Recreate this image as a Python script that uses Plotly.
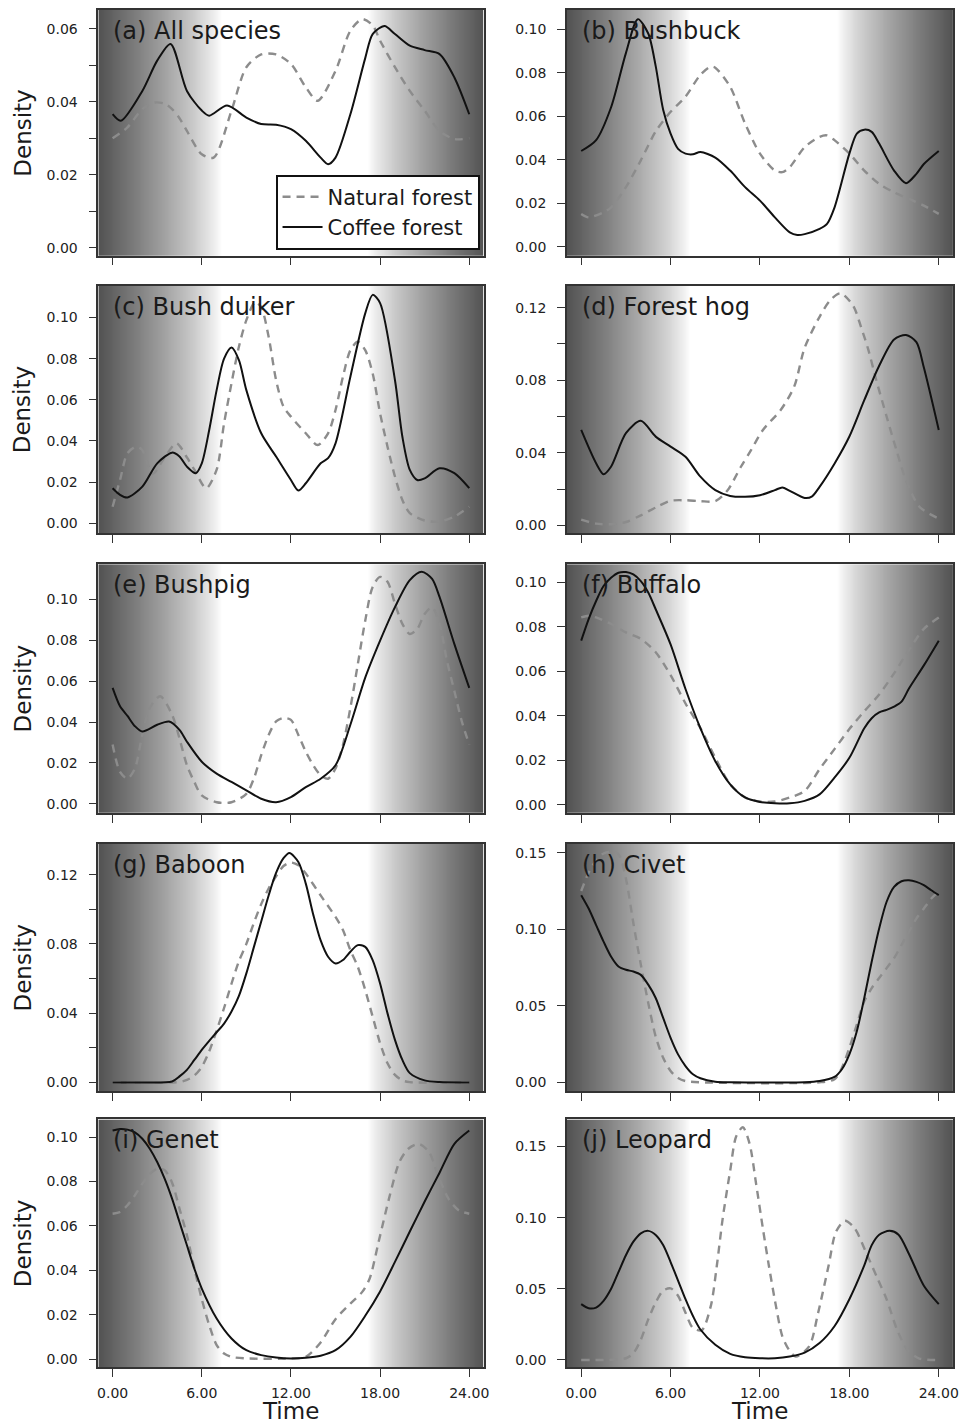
import numpy as np
import plotly.graph_objects as go

# ---------------- data (hours, density) ----------------
panel_titles = ["(a) All species", "(b) Bushbuck", "(c) Bush duiker", "(d) Forest hog",
                "(e) Bushpig", "(f) Buffalo", "(g) Baboon", "(h) Civet",
                "(i) Genet", "(j) Leopard"]

a_cof_t = [0, 0.55, 2, 3, 3.9, 5, 6, 6.5, 7.7, 9, 10, 11, 12, 13, 14, 14.5, 15, 16, 17, 17.5, 18.3, 19, 20, 21, 22, 23, 24]
a_cof_y = [0.0366, 0.0348, 0.043, 0.0513, 0.0559, 0.043, 0.0376, 0.0362, 0.039, 0.0357, 0.0339, 0.0337, 0.0325, 0.0293, 0.0247, 0.0229, 0.0247, 0.0366, 0.052, 0.0586, 0.0608, 0.0586, 0.0554, 0.0542, 0.0531, 0.0467, 0.0366]
a_nat_t = [0, 1, 2, 2.8, 3.5, 4, 4.5, 5, 6, 6.8, 8, 9, 10, 11, 12, 13, 13.8, 15, 16, 16.8, 17.5, 18, 19, 20, 21, 22, 23, 24]
a_nat_y = [0.030, 0.033, 0.038, 0.0398, 0.0395, 0.038, 0.0355, 0.032, 0.0256, 0.0247, 0.0376, 0.0495, 0.053, 0.053, 0.0504, 0.044, 0.0403, 0.0485, 0.0595, 0.0627, 0.061, 0.0568, 0.0495, 0.043, 0.0376, 0.032, 0.0298, 0.030]

b_cof_t = [0, 1, 2, 3, 3.8, 4.5, 5, 5.5, 6, 6.5, 7, 7.5, 8, 9, 10, 11, 12, 13, 14, 14.5, 15, 16, 16.5, 17, 18, 18.5, 19, 19.5, 20, 21, 21.8, 22.5, 23, 24]
b_cof_y = [0.044, 0.049, 0.064, 0.089, 0.1046, 0.098, 0.083, 0.063, 0.052, 0.045, 0.0428, 0.0425, 0.0435, 0.041, 0.035, 0.0274, 0.0212, 0.0135, 0.0066, 0.0054, 0.0058, 0.0082, 0.0105, 0.018, 0.0428, 0.052, 0.0538, 0.0528, 0.0474, 0.035, 0.0292, 0.0335, 0.038, 0.044]
b_nat_t = [0, 0.5, 1.5, 2, 3, 4, 5, 6, 7, 8, 8.7, 9, 10, 11, 12, 13, 13.5, 14, 15, 16, 16.5, 17, 18, 19, 20, 21, 22, 23, 24]
b_nat_y = [0.0151, 0.0135, 0.0158, 0.018, 0.0274, 0.0397, 0.053, 0.062, 0.069, 0.079, 0.0828, 0.0823, 0.0735, 0.0566, 0.0428, 0.035, 0.0343, 0.0366, 0.0458, 0.0505, 0.0512, 0.049, 0.0428, 0.035, 0.0289, 0.025, 0.022, 0.0189, 0.0151]

c_cof_t = [0, 0.5, 1, 2, 3, 4, 4.5, 5, 5.6, 6, 6.5, 7, 7.5, 8, 8.5, 9, 10, 11, 12, 12.5, 13, 14, 14.5, 15, 16, 17, 17.5, 18, 19, 19.5, 20, 20.5, 21, 22, 23, 24]
c_cof_y = [0.017, 0.0138, 0.0125, 0.0178, 0.0291, 0.0343, 0.0324, 0.0275, 0.0243, 0.0291, 0.0453, 0.0647, 0.080, 0.0854, 0.0793, 0.0647, 0.0437, 0.0324, 0.021, 0.0159, 0.0194, 0.0291, 0.0316, 0.0388, 0.0712, 0.102, 0.111, 0.107, 0.0696, 0.042, 0.0259, 0.021, 0.0218, 0.0267, 0.0243, 0.017]
c_nat_t = [0, 0.5, 1, 1.6, 2, 2.7, 3.5, 4.3, 5, 5.5, 6.3, 7, 7.5, 8, 8.5, 9, 9.6, 10, 10.5, 11, 11.5, 12, 13, 13.8, 14.5, 15, 15.5, 16, 16.5, 17, 17.5, 18, 18.5, 19, 19.5, 20, 21, 22, 23, 24]
c_nat_y = [0.008, 0.021, 0.034, 0.0372, 0.0356, 0.024, 0.032, 0.0388, 0.032, 0.026, 0.017, 0.026, 0.0485, 0.068, 0.0858, 0.0987, 0.1076, 0.105, 0.0906, 0.0696, 0.0566, 0.0518, 0.0437, 0.038, 0.0437, 0.055, 0.0712, 0.0841, 0.0882, 0.0841, 0.0728, 0.0534, 0.0372, 0.0227, 0.0113, 0.0049, 0.0013, 0.0008, 0.0032, 0.008]

d_cof_t = [0, 1, 1.5, 2, 3, 4, 5, 6, 7, 8, 9, 10, 11, 12, 13, 13.5, 14, 15, 15.5, 16, 17, 18, 19, 20, 21, 21.8, 22.5, 23, 24]
d_cof_y = [0.0526, 0.0342, 0.0282, 0.0323, 0.0508, 0.0576, 0.0489, 0.0434, 0.0378, 0.0268, 0.0194, 0.0162, 0.0157, 0.0166, 0.0194, 0.0209, 0.019, 0.0151, 0.016, 0.0212, 0.034, 0.049, 0.069, 0.088, 0.1025, 0.105, 0.101, 0.087, 0.0526]
d_nat_t = [0, 1, 2, 3, 4, 5, 6, 7, 8, 9, 9.8, 10.7, 11.4, 12.2, 13.4, 14.3, 15, 16, 16.7, 17.4, 18.26, 18.8, 19.27, 19.8, 20.5, 21.16, 21.8, 22.7, 24]
d_nat_y = [0.0031, 0.0009, 0.0006, 0.0018, 0.0055, 0.0098, 0.0135, 0.0138, 0.0133, 0.0133, 0.019, 0.032, 0.0415, 0.0526, 0.0637, 0.0766, 0.098, 0.115, 0.124, 0.128, 0.121, 0.1089, 0.0969, 0.0803, 0.060, 0.0415, 0.0249, 0.0102, 0.0037]

e_cof_t = [0, 0.5, 1, 1.5, 2, 3, 3.8, 4.5, 5, 6, 7, 8, 9, 10, 11, 12, 13, 14, 15, 16, 17, 18, 19, 20, 20.8, 21.5, 22, 23, 24]
e_cof_y = [0.0567, 0.0477, 0.043, 0.038, 0.0354, 0.0387, 0.0403, 0.0362, 0.0304, 0.0206, 0.0148, 0.0107, 0.0066, 0.0025, 0.0008, 0.0033, 0.0082, 0.0123, 0.0189, 0.0387, 0.0617, 0.0798, 0.0962, 0.1094, 0.1135, 0.110, 0.1012, 0.0781, 0.0567]
e_nat_t = [0, 0.5, 1, 1.5, 2, 2.5, 3.2, 4, 4.5, 5, 5.5, 6, 7, 8, 9, 9.5, 10, 10.5, 11, 11.5, 12, 12.5, 13, 13.5, 14, 14.5, 15, 15.5, 16, 16.5, 17, 17.5, 18, 18.5, 19, 19.5, 20, 20.5, 21, 21.5, 22, 22.5, 23, 23.5, 24]
e_nat_y = [0.029, 0.0156, 0.0123, 0.0173, 0.0337, 0.0469, 0.0526, 0.0436, 0.032, 0.0189, 0.0107, 0.0041, 0.0008, 0.0008, 0.0049, 0.0123, 0.0238, 0.0337, 0.0403, 0.042, 0.0411, 0.0337, 0.0255, 0.0189, 0.014, 0.0123, 0.0173, 0.0288, 0.0469, 0.0683, 0.0896, 0.1061, 0.111, 0.1086, 0.0979, 0.088, 0.0831, 0.0855, 0.0929, 0.0962, 0.088, 0.0699, 0.0551, 0.0403, 0.029]

f_cof_t = [0, 0.5, 1, 1.5, 2, 2.5, 3, 3.5, 4, 4.5, 5, 6, 7, 8, 9, 10, 11, 12, 13, 14, 15, 16, 17, 18, 19, 19.5, 20, 20.5, 21, 21.5, 22, 23, 24]
f_cof_y = [0.0737, 0.0834, 0.0915, 0.0982, 0.1019, 0.1042, 0.1045, 0.1034, 0.1004, 0.0953, 0.0878, 0.072, 0.052, 0.0344, 0.0196, 0.0092, 0.0033, 0.0013, 0.0007, 0.0007, 0.0018, 0.0047, 0.0122, 0.0211, 0.0344, 0.0389, 0.0415, 0.0426, 0.0441, 0.0463, 0.0522, 0.0626, 0.0737]
f_nat_t = [0, 0.5, 1, 2, 3, 4, 5, 6, 7, 8, 9, 10, 11, 12, 13, 14, 15, 16, 17, 18, 19, 20, 21, 22, 23, 24]
f_nat_y = [0.0841, 0.0849, 0.0841, 0.0812, 0.0774, 0.0745, 0.0685, 0.0582, 0.0455, 0.0344, 0.0211, 0.0092, 0.0033, 0.0015, 0.0015, 0.0033, 0.0062, 0.016, 0.025, 0.034, 0.042, 0.0495, 0.059, 0.0695, 0.079, 0.0841]

g_cof_t = [0, 2, 4, 4.5, 5, 5.5, 6, 6.5, 7, 7.5, 8, 8.5, 9, 9.5, 10, 10.5, 11, 11.5, 11.9, 12.5, 13, 13.5, 14, 14.5, 15, 15.5, 16, 16.5, 17, 17.5, 18, 18.5, 19, 19.5, 20, 21, 22, 24]
g_cof_y = [0, 0, 0.0006, 0.0035, 0.0073, 0.013, 0.0188, 0.024, 0.029, 0.034, 0.041, 0.05, 0.063, 0.078, 0.093, 0.108, 0.121, 0.1295, 0.1325, 0.1273, 0.1148, 0.097, 0.082, 0.0726, 0.0687, 0.0707, 0.0755, 0.0793, 0.0783, 0.0707, 0.0572, 0.0399, 0.0246, 0.013, 0.0054, 0.0012, 0.0002, 0]
g_nat_t = [0, 4.5, 5, 5.5, 6, 6.5, 7, 7.5, 8, 8.5, 9, 9.5, 10, 10.5, 11, 11.5, 12, 12.5, 13, 14, 15, 15.5, 16, 16.5, 17, 17.5, 18, 18.5, 19, 19.5, 20, 24]
g_nat_y = [0, 0.0003, 0.0015, 0.004, 0.009, 0.018, 0.03, 0.043, 0.057, 0.07, 0.08, 0.092, 0.103, 0.112, 0.119, 0.125, 0.127, 0.1254, 0.1206, 0.108, 0.0956, 0.088, 0.0764, 0.0668, 0.0534, 0.038, 0.0227, 0.0111, 0.0044, 0.0012, 0.0002, 0]

h_cof_t = [0, 0.5, 1, 1.5, 2, 2.5, 3, 3.5, 4, 4.5, 5, 5.5, 6, 6.5, 7, 7.5, 8, 9, 10, 12, 15, 16, 17, 17.5, 18, 18.5, 19, 19.5, 20, 20.5, 21, 21.5, 22, 22.5, 23, 23.5, 24]
h_cof_y = [0.1223, 0.1136, 0.1028, 0.092, 0.0823, 0.0758, 0.0736, 0.0725, 0.0703, 0.0639, 0.0552, 0.0422, 0.0292, 0.0184, 0.0108, 0.0054, 0.0028, 0.0006, 0.0002, 0.0001, 0.0002, 0.001, 0.0037, 0.0087, 0.0184, 0.0335, 0.0552, 0.079, 0.1006, 0.118, 0.1277, 0.1314, 0.132, 0.131, 0.1288, 0.1255, 0.1223]
h_nat_t = [0, 0.5, 1, 1.5, 2, 2.5, 3, 3.5, 4, 4.5, 5, 5.5, 6, 6.5, 7, 8, 16, 17, 17.5, 18, 18.5, 19, 19.5, 20, 20.5, 21, 21.5, 22, 22.5, 23, 23.5, 24]
h_nat_y = [0.125, 0.137, 0.145, 0.1495, 0.1505, 0.149, 0.133, 0.104, 0.077, 0.052, 0.03, 0.0162, 0.0075, 0.003, 0.001, 0.0002, 0.0002, 0.0022, 0.0097, 0.0227, 0.0379, 0.053, 0.0617, 0.0682, 0.0747, 0.0812, 0.0898, 0.0985, 0.1071, 0.1136, 0.1201, 0.125]

i_cof_t = [0, 0.5, 1, 1.5, 2, 2.5, 3, 3.5, 4, 4.5, 5, 5.5, 6, 7, 8, 9, 10, 11, 12, 13, 14, 15, 16, 17, 18, 19, 20, 21, 22, 23, 24]
i_cof_y = [0.103, 0.1037, 0.1034, 0.1022, 0.0993, 0.0948, 0.0888, 0.0813, 0.0723, 0.0618, 0.0513, 0.0408, 0.0318, 0.0183, 0.0093, 0.004, 0.0018, 0.0007, 0.0003, 0.0006, 0.0015, 0.004, 0.01, 0.0195, 0.0305, 0.0438, 0.0575, 0.071, 0.084, 0.097, 0.103]
i_nat_t = [0, 0.5, 1, 1.5, 2, 2.5, 3, 3.5, 4, 4.5, 5, 5.5, 6, 6.5, 7, 7.5, 8, 9, 12, 13, 14, 15, 16, 16.8, 17.3, 17.9, 18.6, 19.3, 19.9, 20.6, 21.3, 21.9, 22.6, 23.3, 24]
i_nat_y = [0.0655, 0.0663, 0.0693, 0.0738, 0.079, 0.0835, 0.0858, 0.0851, 0.0795, 0.0678, 0.0558, 0.0408, 0.027, 0.0153, 0.0063, 0.0025, 0.001, 0.0003, 0.0003, 0.001, 0.0075, 0.018, 0.025, 0.0303, 0.0363, 0.0528, 0.0723, 0.0888, 0.0948, 0.097, 0.0933, 0.0828, 0.0723, 0.067, 0.0655]

j_cof_t = [0, 0.5, 1, 1.5, 2, 2.5, 3, 3.5, 4, 4.5, 5, 5.5, 6, 6.5, 7, 7.5, 8, 9, 10, 11, 12, 13, 14, 15, 16, 17, 18, 19, 19.5, 20, 20.7, 21.3, 22, 23, 24]
j_cof_y = [0.0392, 0.0363, 0.0368, 0.0415, 0.0498, 0.0617, 0.0736, 0.0831, 0.089, 0.0907, 0.0878, 0.0807, 0.0688, 0.0558, 0.0427, 0.0309, 0.0214, 0.0107, 0.0043, 0.0019, 0.0012, 0.0012, 0.0024, 0.0052, 0.0119, 0.0237, 0.0427, 0.0665, 0.0807, 0.088, 0.0907, 0.088, 0.0745, 0.0522, 0.0392]
j_nat_t = [0, 3, 3.5, 4, 4.5, 5, 5.5, 6, 6.5, 7, 7.5, 8.1, 8.7, 9.1, 9.5, 10, 10.4, 10.85, 11.3, 11.75, 12.2, 12.6, 13.07, 13.5, 13.95, 14.4, 15.3, 15.9, 16.6, 17.1, 17.7, 18.35, 19.1, 19.9, 20.5, 21.2, 21.9, 22.7, 24]
j_nat_y = [0, 0.0012, 0.0047, 0.0142, 0.0285, 0.0404, 0.0487, 0.0503, 0.0451, 0.0332, 0.0225, 0.021, 0.038, 0.066, 0.0997, 0.133, 0.157, 0.1635, 0.152, 0.123, 0.092, 0.066, 0.038, 0.0166, 0.0071, 0.0024, 0.0095, 0.033, 0.066, 0.09, 0.0978, 0.0926, 0.076, 0.057, 0.0427, 0.0214, 0.0071, 0.001, 0]

coffee_t = [a_cof_t, b_cof_t, c_cof_t, d_cof_t, e_cof_t, f_cof_t, g_cof_t, h_cof_t, i_cof_t, j_cof_t]
coffee_y = [a_cof_y, b_cof_y, c_cof_y, d_cof_y, e_cof_y, f_cof_y, g_cof_y, h_cof_y, i_cof_y, j_cof_y]
natural_t = [a_nat_t, b_nat_t, c_nat_t, d_nat_t, e_nat_t, f_nat_t, g_nat_t, h_nat_t, i_nat_t, j_nat_t]
natural_y = [a_nat_y, b_nat_y, c_nat_y, d_nat_y, e_nat_y, f_nat_y, g_nat_y, h_nat_y, i_nat_y, j_nat_y]

y_ranges = [(-0.0022, 0.0652), (-0.0041, 0.1088), (-0.0049, 0.1155), (-0.0044, 0.1322),
            (-0.0044, 0.1172), (-0.0036, 0.108), (-0.0052, 0.1378), (-0.0058, 0.1558),
            (-0.0036, 0.108), (-0.005, 0.169)]
y_ticks = [
    ([0, 0.01, 0.02, 0.03, 0.04, 0.05, 0.06], ["0.00", "", "0.02", "", "0.04", "", "0.06"]),
    ([0, 0.02, 0.04, 0.06, 0.08, 0.10], ["0.00", "0.02", "0.04", "0.06", "0.08", "0.10"]),
    ([0, 0.02, 0.04, 0.06, 0.08, 0.10], ["0.00", "0.02", "0.04", "0.06", "0.08", "0.10"]),
    ([0, 0.02, 0.04, 0.06, 0.08, 0.10, 0.12], ["0.00", "", "0.04", "", "0.08", "", "0.12"]),
    ([0, 0.02, 0.04, 0.06, 0.08, 0.10], ["0.00", "0.02", "0.04", "0.06", "0.08", "0.10"]),
    ([0, 0.02, 0.04, 0.06, 0.08, 0.10], ["0.00", "0.02", "0.04", "0.06", "0.08", "0.10"]),
    ([0, 0.02, 0.04, 0.06, 0.08, 0.10, 0.12], ["0.00", "", "0.04", "", "0.08", "", "0.12"]),
    ([0, 0.05, 0.10, 0.15], ["0.00", "0.05", "0.10", "0.15"]),
    ([0, 0.02, 0.04, 0.06, 0.08, 0.10], ["0.00", "0.02", "0.04", "0.06", "0.08", "0.10"]),
    ([0, 0.05, 0.10, 0.15], ["0.00", "0.05", "0.10", "0.15"]),
]
x_tick_vals = [0, 6, 12, 18, 24]
x_tick_text = ["0.00", "6.00", "12.00", "18.00", "24.00"]

# ---------------- layout geometry ----------------
OFF = 8                      # page body margin
W, H = 968 - OFF, 1428 - OFF
X_RANGE = (-0.96, 24.96)
col_px = [(98, 486), (570, 959)]
row_px = [(9, 255), (285, 533), (564, 813), (844, 1092), (1120, 1368)]
FONT = "DejaVu Sans"
DAWN, DUSK = 7.25, 17.2


def px_x(p):
    return (p - OFF) / W


def px_y(p):
    return 1 - (p - OFF) / H


def shade(h):
    if h < DAWN:
        t = (DAWN - h) / (DAWN - X_RANGE[0])
    elif h > DUSK:
        t = (h - DUSK) / (X_RANGE[1] - DUSK)
    else:
        t = 0.0
    return 255 - 172 * (t ** 0.8)


fig = go.Figure()
layout = dict(width=W, height=H, margin=dict(l=0, r=0, t=0, b=0),
              paper_bgcolor="white", plot_bgcolor="white",
              font=dict(family=FONT, color="#222"), annotations=[])

gx = np.linspace(X_RANGE[0], X_RANGE[1], 400)
gz = [shade(h) for h in gx]

for k in range(10):
    r, c = divmod(k, 2)
    n = k + 1
    xa, ya = ("x" if n == 1 else f"x{n}"), ("y" if n == 1 else f"y{n}")
    xkey, ykey = ("xaxis" if n == 1 else f"xaxis{n}"), ("yaxis" if n == 1 else f"yaxis{n}")
    y0, y1 = y_ranges[k]

    fig.add_trace(go.Heatmap(x=gx, y=[y0, y1], z=[gz, gz], zmin=0, zmax=255,
                             colorscale=[[0, "black"], [1, "white"]], showscale=False,
                             zsmooth="best", hoverinfo="skip", xaxis=xa, yaxis=ya))
    fig.add_trace(go.Scatter(x=natural_t[k], y=natural_y[k], mode="lines",
                             line=dict(color="#8c8c8c", width=2.4, dash="8px,6px", shape="spline", smoothing=0.8),
                             name="Natural forest", showlegend=(k == 0), xaxis=xa, yaxis=ya))
    fig.add_trace(go.Scatter(x=coffee_t[k], y=coffee_y[k], mode="lines",
                             line=dict(color="#111111", width=2.0, shape="spline", smoothing=0.8),
                             name="Coffee forest", showlegend=(k == 0), xaxis=xa, yaxis=ya))

    cx0, cx1 = col_px[c]
    ry0, ry1 = row_px[r]
    bottom = (r == 4)
    layout[xkey] = dict(domain=[px_x(cx0), px_x(cx1)], range=list(X_RANGE), anchor=ya,
                        tickvals=x_tick_vals, ticktext=x_tick_text if bottom else [""] * 5,
                        ticks="outside", ticklen=8, tickwidth=1.4, tickcolor="#333",
                        showline=True, mirror=True, linecolor="#333", linewidth=1.5,
                        showgrid=False, zeroline=False, fixedrange=True,
                        tickfont=dict(size=14, color="#222"), ticklabelstandoff=4)
    tv, tt = y_ticks[k]
    layout[ykey] = dict(domain=[px_y(ry1), px_y(ry0)], range=[y0, y1], anchor=xa,
                        tickvals=tv, ticktext=tt,
                        ticks="outside", ticklen=8, tickwidth=1.4, tickcolor="#333",
                        showline=True, mirror=True, linecolor="#333", linewidth=1.5,
                        showgrid=False, zeroline=False, fixedrange=True,
                        tickfont=dict(size=14, color="#222"), ticklabelstandoff=8)

    layout["annotations"].append(dict(text=panel_titles[k], xref=f"{xa} domain", yref=f"{ya} domain",
                                      x=0.033, y=0.915, xanchor="left", yanchor="middle",
                                      showarrow=False, font=dict(size=24, color="#1a1a1a", family=FONT)))
    if c == 0:
        layout["annotations"].append(dict(text="Density", xref="paper", yref="paper",
                                          x=px_x(22), y=px_y((ry0 + ry1) / 2), textangle=-90,
                                          xanchor="center", yanchor="middle", showarrow=False,
                                          font=dict(size=23, color="#1a1a1a", family=FONT)))
    if bottom:
        layout["annotations"].append(dict(text="Time", xref="paper", yref="paper",
                                          x=px_x((cx0 + cx1) / 2), y=px_y(1412),
                                          xanchor="center", yanchor="middle", showarrow=False,
                                          font=dict(size=23, color="#1a1a1a", family=FONT)))

layout["legend"] = dict(x=px_x(482), y=px_y(249), xanchor="right", yanchor="bottom",
                        bgcolor="white", bordercolor="#111", borderwidth=2,
                        font=dict(size=21, color="#1a1a1a", family=FONT),
                        traceorder="normal", itemwidth=40)
layout["showlegend"] = True
fig.update_layout(**layout)
fig.write_html("out.html")
